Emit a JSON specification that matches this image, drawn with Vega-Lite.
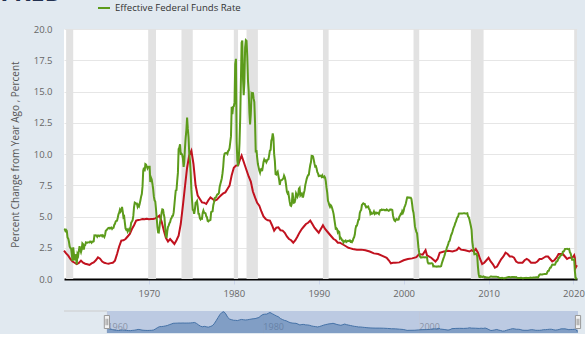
{
"$schema": "https://vega.github.io/schema/vega-lite/v6.json",
"background": "#e1e9f0",
"padding": {"left": 0, "top": -19, "right": 0, "bottom": 0},
"config": {"view": {"stroke": null}, "font": "Open Sans"},
"title": {"text": "FRED", "anchor": "start", "frame": "bounds", "dx": -10, "dy": 25, "offset": 0, "baseline": "alphabetic", "fontSize": 25, "fontWeight": "bold", "color": "#22304f"},
"spacing": 11,
"datasets": {
"rec": [{"s":"1960-04","e":"1961-02"},{"s":"1969-12","e":"1970-11"},{"s":"1973-11","e":"1975-03"},{"s":"1980-01","e":"1980-07"},{"s":"1981-07","e":"1982-11"},{"s":"1990-07","e":"1991-03"},{"s":"2001-03","e":"2001-11"},{"s":"2007-12","e":"2009-06"},{"s":"2020-02","e":"2020-06"}],
"sel": [{"s":"1960-01","e":"2020-06"}],
"outl": [{"s":"1954-07","e":"1960-01"}],
"handles": [{"d":"1960-01"},{"d":"2020-06"}],
"core": [
{"d":"1960-01","v":2.27},{"d":"1960-04","v":2.05},{"d":"1960-07","v":1.87},{"d":"1960-10","v":1.6},
{"d":"1961-01","v":1.4},{"d":"1961-04","v":1.3},{"d":"1961-07","v":1.2},{"d":"1961-10","v":1.28},
{"d":"1962-01","v":1.47},{"d":"1962-04","v":1.3},{"d":"1962-07","v":1.22},{"d":"1962-10","v":1.18},
{"d":"1963-01","v":1.12},{"d":"1963-04","v":1.25},{"d":"1963-07","v":1.33},{"d":"1963-10","v":1.5},
{"d":"1964-01","v":1.73},{"d":"1964-04","v":1.62},{"d":"1964-07","v":1.4},{"d":"1964-10","v":1.3},
{"d":"1965-01","v":1.25},{"d":"1965-04","v":1.22},{"d":"1965-07","v":1.27},{"d":"1965-10","v":1.3},
{"d":"1966-01","v":1.47},{"d":"1966-04","v":2.0},{"d":"1966-07","v":2.6},{"d":"1966-10","v":3.07},
{"d":"1967-01","v":3.1},{"d":"1967-04","v":3.2},{"d":"1967-07","v":3.4},{"d":"1967-10","v":3.6},
{"d":"1968-01","v":4.0},{"d":"1968-04","v":4.3},{"d":"1968-07","v":4.67},{"d":"1968-10","v":4.72},
{"d":"1969-01","v":4.75},{"d":"1969-04","v":4.8},{"d":"1969-07","v":4.78},{"d":"1969-10","v":4.82},
{"d":"1970-01","v":4.78},{"d":"1970-04","v":4.8},{"d":"1970-07","v":4.8},{"d":"1970-10","v":4.85},
{"d":"1971-01","v":4.95},{"d":"1971-04","v":5.07},{"d":"1971-07","v":4.6},{"d":"1971-10","v":3.9},
{"d":"1972-01","v":3.3},{"d":"1972-04","v":3.0},{"d":"1972-07","v":3.2},{"d":"1972-10","v":3.0},
{"d":"1973-01","v":2.8},{"d":"1973-04","v":3.1},{"d":"1973-07","v":3.47},{"d":"1973-10","v":4.4},
{"d":"1974-01","v":5.87},{"d":"1974-04","v":7.4},{"d":"1974-07","v":8.9},{"d":"1974-10","v":9.9},
{"d":"1975-01","v":10.27},{"d":"1975-04","v":9.2},{"d":"1975-07","v":7.5},{"d":"1975-10","v":6.67},
{"d":"1976-01","v":6.4},{"d":"1976-04","v":6.13},{"d":"1976-07","v":6.1},{"d":"1976-10","v":6.0},
{"d":"1977-01","v":6.3},{"d":"1977-04","v":6.53},{"d":"1977-07","v":6.4},{"d":"1977-10","v":6.27},
{"d":"1978-01","v":6.35},{"d":"1978-04","v":6.53},{"d":"1978-07","v":6.7},{"d":"1978-10","v":6.85},
{"d":"1979-01","v":6.93},{"d":"1979-04","v":7.2},{"d":"1979-07","v":7.47},{"d":"1979-10","v":8.3},
{"d":"1980-01","v":8.9},{"d":"1980-04","v":9.07},{"d":"1980-07","v":9.1},{"d":"1980-10","v":9.6},
{"d":"1980-12","v":9.87},{"d":"1981-04","v":9.2},{"d":"1981-07","v":8.7},{"d":"1981-10","v":8.2},
{"d":"1982-01","v":7.8},{"d":"1982-04","v":7.0},{"d":"1982-07","v":6.53},{"d":"1982-10","v":6.1},
{"d":"1983-01","v":5.87},{"d":"1983-04","v":5.4},{"d":"1983-07","v":5.0},{"d":"1983-10","v":4.8},
{"d":"1984-01","v":4.7},{"d":"1984-04","v":4.67},{"d":"1984-07","v":4.3},{"d":"1984-10","v":3.87},
{"d":"1985-01","v":4.1},{"d":"1985-04","v":4.13},{"d":"1985-07","v":3.9},{"d":"1985-10","v":3.87},
{"d":"1986-01","v":3.7},{"d":"1986-04","v":3.4},{"d":"1986-07","v":3.2},{"d":"1986-10","v":3.1},
{"d":"1987-01","v":2.9},{"d":"1987-04","v":3.1},{"d":"1987-07","v":3.4},{"d":"1987-10","v":3.73},
{"d":"1988-01","v":4.0},{"d":"1988-04","v":4.2},{"d":"1988-07","v":4.4},{"d":"1988-10","v":4.5},
{"d":"1989-01","v":4.67},{"d":"1989-04","v":4.4},{"d":"1989-07","v":4.1},{"d":"1989-10","v":3.9},
{"d":"1990-01","v":3.7},{"d":"1990-04","v":4.0},{"d":"1990-07","v":4.3},{"d":"1990-10","v":4.0},
{"d":"1991-01","v":3.8},{"d":"1991-04","v":3.6},{"d":"1991-07","v":3.4},{"d":"1991-10","v":3.2},
{"d":"1992-01","v":3.1},{"d":"1992-04","v":2.9},{"d":"1992-07","v":2.9},{"d":"1992-10","v":2.8},
{"d":"1993-01","v":2.7},{"d":"1993-04","v":2.6},{"d":"1993-07","v":2.5},{"d":"1993-10","v":2.45},
{"d":"1994-01","v":2.4},{"d":"1994-07","v":2.35},{"d":"1995-01","v":2.35},{"d":"1995-07","v":2.3},
{"d":"1996-01","v":2.2},{"d":"1996-07","v":2.05},{"d":"1997-01","v":2.0},{"d":"1997-07","v":1.85},
{"d":"1998-01","v":1.7},{"d":"1998-04","v":1.5},{"d":"1998-07","v":1.25},{"d":"1998-10","v":1.3},
{"d":"1999-01","v":1.3},{"d":"1999-07","v":1.33},{"d":"2000-01","v":1.5},{"d":"2000-07","v":1.6},
{"d":"2001-01","v":1.65},{"d":"2001-07","v":1.75},{"d":"2001-11","v":2.0},{"d":"2002-04","v":1.95},
{"d":"2002-08","v":2.3},{"d":"2002-10","v":1.9},{"d":"2003-04","v":1.7},{"d":"2003-10","v":1.4},
{"d":"2004-01","v":1.6},{"d":"2004-04","v":2.1},{"d":"2004-10","v":2.2},{"d":"2005-04","v":2.25},
{"d":"2005-10","v":2.2},{"d":"2006-04","v":2.3},{"d":"2006-07","v":2.5},{"d":"2006-10","v":2.35},
{"d":"2007-04","v":2.3},{"d":"2007-10","v":2.2},{"d":"2008-01","v":2.3},{"d":"2008-04","v":2.2},
{"d":"2008-07","v":2.4},{"d":"2008-10","v":2.1},{"d":"2009-01","v":1.6},{"d":"2009-04","v":1.2},
{"d":"2009-07","v":1.3},{"d":"2009-10","v":1.5},{"d":"2010-01","v":1.7},{"d":"2010-04","v":1.4},
{"d":"2010-07","v":1.2},{"d":"2010-10","v":0.9},{"d":"2011-01","v":1.0},{"d":"2011-04","v":1.3},
{"d":"2011-07","v":1.6},{"d":"2011-10","v":1.8},{"d":"2012-01","v":2.1},{"d":"2012-04","v":2.0},
{"d":"2012-07","v":1.8},{"d":"2012-10","v":1.8},{"d":"2013-01","v":1.7},{"d":"2013-04","v":1.4},
{"d":"2013-07","v":1.3},{"d":"2013-10","v":1.3},{"d":"2014-01","v":1.3},{"d":"2014-04","v":1.5},
{"d":"2014-07","v":1.6},{"d":"2014-10","v":1.5},{"d":"2015-01","v":1.3},{"d":"2015-04","v":1.3},
{"d":"2015-07","v":1.3},{"d":"2015-10","v":1.4},{"d":"2016-01","v":1.6},{"d":"2016-04","v":1.6},
{"d":"2016-07","v":1.7},{"d":"2016-10","v":1.8},{"d":"2017-01","v":1.8},{"d":"2017-04","v":1.6},
{"d":"2017-07","v":1.4},{"d":"2017-10","v":1.5},{"d":"2018-01","v":1.7},{"d":"2018-04","v":2.0},
{"d":"2018-07","v":2.0},{"d":"2018-10","v":2.0},{"d":"2019-01","v":1.8},{"d":"2019-04","v":1.6},
{"d":"2019-07","v":1.7},{"d":"2019-10","v":1.7},{"d":"2020-01","v":1.8},{"d":"2020-02","v":1.9},
{"d":"2020-03","v":1.7},{"d":"2020-04","v":0.9},{"d":"2020-05","v":1.0},{"d":"2020-06","v":1.1}
],
"ff": [
{"d":"1960-01","v":3.99},{"d":"1960-02","v":3.97},{"d":"1960-03","v":3.84},{"d":"1960-04","v":3.92},{"d":"1960-05","v":3.85},{"d":"1960-06","v":3.32},{"d":"1960-07","v":3.23},{"d":"1960-08","v":2.98},{"d":"1960-09","v":2.6},{"d":"1960-10","v":2.47},{"d":"1960-11","v":2.44},{"d":"1960-12","v":1.98},
{"d":"1961-01","v":1.45},{"d":"1961-02","v":2.54},{"d":"1961-03","v":2.02},{"d":"1961-04","v":1.49},{"d":"1961-05","v":1.98},{"d":"1961-06","v":1.73},{"d":"1961-07","v":1.17},{"d":"1961-08","v":2.0},{"d":"1961-09","v":1.88},{"d":"1961-10","v":2.26},{"d":"1961-11","v":2.62},{"d":"1961-12","v":2.33},
{"d":"1962-01","v":2.15},{"d":"1962-02","v":2.37},{"d":"1962-03","v":2.85},{"d":"1962-04","v":2.78},{"d":"1962-05","v":2.36},{"d":"1962-06","v":2.68},{"d":"1962-07","v":2.71},{"d":"1962-08","v":2.93},{"d":"1962-09","v":2.9},{"d":"1962-10","v":2.9},{"d":"1962-11","v":2.94},{"d":"1962-12","v":2.93},
{"d":"1963-01","v":2.92},{"d":"1963-02","v":3.0},{"d":"1963-03","v":2.98},{"d":"1963-04","v":2.9},{"d":"1963-05","v":3.0},{"d":"1963-06","v":2.99},{"d":"1963-07","v":3.02},{"d":"1963-08","v":3.49},{"d":"1963-09","v":3.48},{"d":"1963-10","v":3.5},{"d":"1963-11","v":3.48},{"d":"1963-12","v":3.38},
{"d":"1964-01","v":3.48},{"d":"1964-02","v":3.48},{"d":"1964-03","v":3.43},{"d":"1964-04","v":3.47},{"d":"1964-05","v":3.5},{"d":"1964-06","v":3.5},{"d":"1964-07","v":3.42},{"d":"1964-08","v":3.5},{"d":"1964-09","v":3.45},{"d":"1964-10","v":3.36},{"d":"1964-11","v":3.52},{"d":"1964-12","v":3.85},
{"d":"1965-01","v":3.9},{"d":"1965-02","v":3.98},{"d":"1965-03","v":4.04},{"d":"1965-04","v":4.09},{"d":"1965-05","v":4.1},{"d":"1965-06","v":4.04},{"d":"1965-07","v":4.09},{"d":"1965-08","v":4.12},{"d":"1965-09","v":4.01},{"d":"1965-10","v":4.08},{"d":"1965-11","v":4.1},{"d":"1965-12","v":4.32},
{"d":"1966-01","v":4.42},{"d":"1966-02","v":4.6},{"d":"1966-03","v":4.65},{"d":"1966-04","v":4.67},{"d":"1966-05","v":4.9},{"d":"1966-06","v":5.17},{"d":"1966-07","v":5.3},{"d":"1966-08","v":5.53},{"d":"1966-09","v":5.4},{"d":"1966-10","v":5.53},{"d":"1966-11","v":5.76},{"d":"1966-12","v":5.4},
{"d":"1967-01","v":4.94},{"d":"1967-02","v":5.0},{"d":"1967-03","v":4.53},{"d":"1967-04","v":4.05},{"d":"1967-05","v":3.94},{"d":"1967-06","v":3.98},{"d":"1967-07","v":3.79},{"d":"1967-08","v":3.9},{"d":"1967-09","v":3.99},{"d":"1967-10","v":3.88},{"d":"1967-11","v":4.13},{"d":"1967-12","v":4.51},
{"d":"1968-01","v":4.6},{"d":"1968-02","v":4.71},{"d":"1968-03","v":5.05},{"d":"1968-04","v":5.76},{"d":"1968-05","v":6.11},{"d":"1968-06","v":6.07},{"d":"1968-07","v":6.02},{"d":"1968-08","v":6.03},{"d":"1968-09","v":5.78},{"d":"1968-10","v":5.91},{"d":"1968-11","v":5.82},{"d":"1968-12","v":6.02},
{"d":"1969-01","v":6.3},{"d":"1969-02","v":6.61},{"d":"1969-03","v":6.79},{"d":"1969-04","v":7.41},{"d":"1969-05","v":8.67},{"d":"1969-06","v":8.9},{"d":"1969-07","v":8.61},{"d":"1969-08","v":9.19},{"d":"1969-09","v":9.15},{"d":"1969-10","v":9.0},{"d":"1969-11","v":8.85},{"d":"1969-12","v":8.97},
{"d":"1970-01","v":8.98},{"d":"1970-02","v":8.98},{"d":"1970-03","v":7.76},{"d":"1970-04","v":8.1},{"d":"1970-05","v":7.95},{"d":"1970-06","v":7.61},{"d":"1970-07","v":7.21},{"d":"1970-08","v":6.61},{"d":"1970-09","v":6.29},{"d":"1970-10","v":6.2},{"d":"1970-11","v":5.6},{"d":"1970-12","v":4.9},
{"d":"1971-01","v":4.14},{"d":"1971-02","v":3.72},{"d":"1971-03","v":3.71},{"d":"1971-04","v":4.16},{"d":"1971-05","v":4.63},{"d":"1971-06","v":4.91},{"d":"1971-07","v":5.31},{"d":"1971-08","v":5.57},{"d":"1971-09","v":5.55},{"d":"1971-10","v":5.2},{"d":"1971-11","v":4.91},{"d":"1971-12","v":4.14},
{"d":"1972-01","v":3.5},{"d":"1972-02","v":3.29},{"d":"1972-03","v":3.83},{"d":"1972-04","v":4.17},{"d":"1972-05","v":4.27},{"d":"1972-06","v":4.46},{"d":"1972-07","v":4.55},{"d":"1972-08","v":4.8},{"d":"1972-09","v":4.87},{"d":"1972-10","v":5.04},{"d":"1972-11","v":5.06},{"d":"1972-12","v":5.33},
{"d":"1973-01","v":5.94},{"d":"1973-02","v":6.58},{"d":"1973-03","v":7.09},{"d":"1973-04","v":7.12},{"d":"1973-05","v":7.84},{"d":"1973-06","v":8.49},{"d":"1973-07","v":10.4},{"d":"1973-08","v":10.5},{"d":"1973-09","v":10.78},{"d":"1973-10","v":10.01},{"d":"1973-11","v":10.03},{"d":"1973-12","v":9.95},
{"d":"1974-01","v":9.65},{"d":"1974-02","v":8.97},{"d":"1974-03","v":9.35},{"d":"1974-04","v":10.51},{"d":"1974-05","v":11.31},{"d":"1974-06","v":11.93},{"d":"1974-07","v":12.92},{"d":"1974-08","v":12.01},{"d":"1974-09","v":11.34},{"d":"1974-10","v":10.06},{"d":"1974-11","v":9.45},{"d":"1974-12","v":8.53},
{"d":"1975-01","v":7.13},{"d":"1975-02","v":6.24},{"d":"1975-03","v":5.54},{"d":"1975-04","v":5.49},{"d":"1975-05","v":5.22},{"d":"1975-06","v":5.55},{"d":"1975-07","v":6.1},{"d":"1975-08","v":6.14},{"d":"1975-09","v":6.24},{"d":"1975-10","v":5.82},{"d":"1975-11","v":5.22},{"d":"1975-12","v":5.2},
{"d":"1976-01","v":4.87},{"d":"1976-02","v":4.77},{"d":"1976-03","v":4.84},{"d":"1976-04","v":4.82},{"d":"1976-05","v":5.29},{"d":"1976-06","v":5.48},{"d":"1976-07","v":5.31},{"d":"1976-08","v":5.29},{"d":"1976-09","v":5.25},{"d":"1976-10","v":5.02},{"d":"1976-11","v":4.95},{"d":"1976-12","v":4.65},
{"d":"1977-01","v":4.61},{"d":"1977-02","v":4.68},{"d":"1977-03","v":4.69},{"d":"1977-04","v":4.73},{"d":"1977-05","v":5.35},{"d":"1977-06","v":5.39},{"d":"1977-07","v":5.42},{"d":"1977-08","v":5.9},{"d":"1977-09","v":6.14},{"d":"1977-10","v":6.47},{"d":"1977-11","v":6.51},{"d":"1977-12","v":6.56},
{"d":"1978-01","v":6.7},{"d":"1978-02","v":6.78},{"d":"1978-03","v":6.79},{"d":"1978-04","v":6.89},{"d":"1978-05","v":7.36},{"d":"1978-06","v":7.6},{"d":"1978-07","v":7.81},{"d":"1978-08","v":8.04},{"d":"1978-09","v":8.45},{"d":"1978-10","v":8.96},{"d":"1978-11","v":9.76},{"d":"1978-12","v":10.03},
{"d":"1979-01","v":10.07},{"d":"1979-02","v":10.06},{"d":"1979-03","v":10.09},{"d":"1979-04","v":10.01},{"d":"1979-05","v":10.24},{"d":"1979-06","v":10.29},{"d":"1979-07","v":10.47},{"d":"1979-08","v":10.94},{"d":"1979-09","v":11.43},{"d":"1979-10","v":13.77},{"d":"1979-11","v":13.18},{"d":"1979-12","v":13.78},
{"d":"1980-01","v":13.82},{"d":"1980-02","v":14.13},{"d":"1980-03","v":17.19},{"d":"1980-04","v":17.61},{"d":"1980-05","v":10.98},{"d":"1980-06","v":9.47},{"d":"1980-07","v":9.03},{"d":"1980-08","v":9.61},{"d":"1980-09","v":10.87},{"d":"1980-10","v":12.81},{"d":"1980-11","v":15.85},{"d":"1980-12","v":18.9},
{"d":"1981-01","v":19.08},{"d":"1981-02","v":15.93},{"d":"1981-03","v":14.7},{"d":"1981-04","v":15.72},{"d":"1981-05","v":18.52},{"d":"1981-06","v":19.1},{"d":"1981-07","v":19.04},{"d":"1981-08","v":17.82},{"d":"1981-09","v":15.87},{"d":"1981-10","v":15.08},{"d":"1981-11","v":13.31},{"d":"1981-12","v":12.37},
{"d":"1982-01","v":13.22},{"d":"1982-02","v":14.78},{"d":"1982-03","v":14.68},{"d":"1982-04","v":14.94},{"d":"1982-05","v":14.45},{"d":"1982-06","v":14.15},{"d":"1982-07","v":12.59},{"d":"1982-08","v":10.12},{"d":"1982-09","v":10.31},{"d":"1982-10","v":9.71},{"d":"1982-11","v":9.2},{"d":"1982-12","v":8.95},
{"d":"1983-01","v":8.68},{"d":"1983-02","v":8.51},{"d":"1983-03","v":8.77},{"d":"1983-04","v":8.8},{"d":"1983-05","v":8.63},{"d":"1983-06","v":8.98},{"d":"1983-07","v":9.37},{"d":"1983-08","v":9.56},{"d":"1983-09","v":9.45},{"d":"1983-10","v":9.48},{"d":"1983-11","v":9.34},{"d":"1983-12","v":9.47},
{"d":"1984-01","v":9.56},{"d":"1984-02","v":9.59},{"d":"1984-03","v":9.91},{"d":"1984-04","v":10.29},{"d":"1984-05","v":10.32},{"d":"1984-06","v":11.06},{"d":"1984-07","v":11.23},{"d":"1984-08","v":11.64},{"d":"1984-09","v":11.3},{"d":"1984-10","v":9.99},{"d":"1984-11","v":9.43},{"d":"1984-12","v":8.38},
{"d":"1985-01","v":8.35},{"d":"1985-02","v":8.5},{"d":"1985-03","v":8.58},{"d":"1985-04","v":8.27},{"d":"1985-05","v":7.97},{"d":"1985-06","v":7.53},{"d":"1985-07","v":7.88},{"d":"1985-08","v":7.9},{"d":"1985-09","v":7.92},{"d":"1985-10","v":7.99},{"d":"1985-11","v":8.05},{"d":"1985-12","v":8.27},
{"d":"1986-01","v":8.14},{"d":"1986-02","v":7.86},{"d":"1986-03","v":7.48},{"d":"1986-04","v":6.99},{"d":"1986-05","v":6.85},{"d":"1986-06","v":6.92},{"d":"1986-07","v":6.56},{"d":"1986-08","v":6.17},{"d":"1986-09","v":5.89},{"d":"1986-10","v":5.85},{"d":"1986-11","v":6.04},{"d":"1986-12","v":6.91},
{"d":"1987-01","v":6.43},{"d":"1987-02","v":6.1},{"d":"1987-03","v":6.13},{"d":"1987-04","v":6.37},{"d":"1987-05","v":6.85},{"d":"1987-06","v":6.73},{"d":"1987-07","v":6.58},{"d":"1987-08","v":6.73},{"d":"1987-09","v":7.22},{"d":"1987-10","v":7.29},{"d":"1987-11","v":6.69},{"d":"1987-12","v":6.77},
{"d":"1988-01","v":6.83},{"d":"1988-02","v":6.58},{"d":"1988-03","v":6.58},{"d":"1988-04","v":6.87},{"d":"1988-05","v":7.09},{"d":"1988-06","v":7.51},{"d":"1988-07","v":7.75},{"d":"1988-08","v":8.01},{"d":"1988-09","v":8.19},{"d":"1988-10","v":8.3},{"d":"1988-11","v":8.35},{"d":"1988-12","v":8.76},
{"d":"1989-01","v":9.12},{"d":"1989-02","v":9.36},{"d":"1989-03","v":9.85},{"d":"1989-04","v":9.84},{"d":"1989-05","v":9.81},{"d":"1989-06","v":9.53},{"d":"1989-07","v":9.24},{"d":"1989-08","v":8.99},{"d":"1989-09","v":9.02},{"d":"1989-10","v":8.84},{"d":"1989-11","v":8.55},{"d":"1989-12","v":8.45},
{"d":"1990-01","v":8.23},{"d":"1990-02","v":8.24},{"d":"1990-03","v":8.28},{"d":"1990-04","v":8.26},{"d":"1990-05","v":8.18},{"d":"1990-06","v":8.29},{"d":"1990-07","v":8.15},{"d":"1990-08","v":8.13},{"d":"1990-09","v":8.2},{"d":"1990-10","v":8.11},{"d":"1990-11","v":7.81},{"d":"1990-12","v":7.31},
{"d":"1991-01","v":6.91},{"d":"1991-02","v":6.25},{"d":"1991-03","v":6.12},{"d":"1991-04","v":5.91},{"d":"1991-05","v":5.78},{"d":"1991-06","v":5.9},{"d":"1991-07","v":5.82},{"d":"1991-08","v":5.66},{"d":"1991-09","v":5.45},{"d":"1991-10","v":5.21},{"d":"1991-11","v":4.81},{"d":"1991-12","v":4.43},
{"d":"1992-01","v":4.03},{"d":"1992-02","v":4.06},{"d":"1992-03","v":3.98},{"d":"1992-04","v":3.73},{"d":"1992-05","v":3.82},{"d":"1992-06","v":3.76},{"d":"1992-07","v":3.25},{"d":"1992-08","v":3.3},{"d":"1992-09","v":3.22},{"d":"1992-10","v":3.1},{"d":"1992-11","v":3.09},{"d":"1992-12","v":2.92},
{"d":"1993-01","v":3.02},{"d":"1993-02","v":3.03},{"d":"1993-03","v":3.07},{"d":"1993-04","v":2.96},{"d":"1993-05","v":3.0},{"d":"1993-06","v":3.04},{"d":"1993-07","v":3.06},{"d":"1993-08","v":3.03},{"d":"1993-09","v":3.09},{"d":"1993-10","v":2.99},{"d":"1993-11","v":3.02},{"d":"1993-12","v":2.96},
{"d":"1994-01","v":3.05},{"d":"1994-02","v":3.25},{"d":"1994-03","v":3.34},{"d":"1994-04","v":3.56},{"d":"1994-05","v":4.01},{"d":"1994-06","v":4.25},{"d":"1994-07","v":4.26},{"d":"1994-08","v":4.47},{"d":"1994-09","v":4.73},{"d":"1994-10","v":4.76},{"d":"1994-11","v":5.29},{"d":"1994-12","v":5.45},
{"d":"1995-01","v":5.53},{"d":"1995-02","v":5.92},{"d":"1995-03","v":5.98},{"d":"1995-04","v":6.05},{"d":"1995-05","v":6.01},{"d":"1995-06","v":6.0},{"d":"1995-07","v":5.85},{"d":"1995-08","v":5.74},{"d":"1995-09","v":5.8},{"d":"1995-10","v":5.76},{"d":"1995-11","v":5.8},{"d":"1995-12","v":5.6},
{"d":"1996-01","v":5.56},{"d":"1996-02","v":5.22},{"d":"1996-03","v":5.31},{"d":"1996-04","v":5.22},{"d":"1996-05","v":5.24},{"d":"1996-06","v":5.27},{"d":"1996-07","v":5.4},{"d":"1996-08","v":5.22},{"d":"1996-09","v":5.3},{"d":"1996-10","v":5.24},{"d":"1996-11","v":5.31},{"d":"1996-12","v":5.29},
{"d":"1997-01","v":5.25},{"d":"1997-02","v":5.19},{"d":"1997-03","v":5.39},{"d":"1997-04","v":5.51},{"d":"1997-05","v":5.5},{"d":"1997-06","v":5.56},{"d":"1997-07","v":5.52},{"d":"1997-08","v":5.54},{"d":"1997-09","v":5.54},{"d":"1997-10","v":5.5},{"d":"1997-11","v":5.52},{"d":"1997-12","v":5.5},
{"d":"1998-01","v":5.56},{"d":"1998-02","v":5.51},{"d":"1998-03","v":5.49},{"d":"1998-04","v":5.45},{"d":"1998-05","v":5.49},{"d":"1998-06","v":5.56},{"d":"1998-07","v":5.54},{"d":"1998-08","v":5.55},{"d":"1998-09","v":5.51},{"d":"1998-10","v":5.07},{"d":"1998-11","v":4.83},{"d":"1998-12","v":4.68},
{"d":"1999-01","v":4.63},{"d":"1999-02","v":4.76},{"d":"1999-03","v":4.81},{"d":"1999-04","v":4.74},{"d":"1999-05","v":4.74},{"d":"1999-06","v":4.76},{"d":"1999-07","v":4.99},{"d":"1999-08","v":5.07},{"d":"1999-09","v":5.22},{"d":"1999-10","v":5.2},{"d":"1999-11","v":5.42},{"d":"1999-12","v":5.3},
{"d":"2000-01","v":5.45},{"d":"2000-02","v":5.73},{"d":"2000-03","v":5.85},{"d":"2000-04","v":6.02},{"d":"2000-05","v":6.27},{"d":"2000-06","v":6.53},{"d":"2000-07","v":6.54},{"d":"2000-08","v":6.5},{"d":"2000-09","v":6.52},{"d":"2000-10","v":6.51},{"d":"2000-11","v":6.51},{"d":"2000-12","v":6.4},
{"d":"2001-01","v":5.98},{"d":"2001-02","v":5.49},{"d":"2001-03","v":5.31},{"d":"2001-04","v":4.8},{"d":"2001-05","v":4.21},{"d":"2001-06","v":3.97},{"d":"2001-07","v":3.77},{"d":"2001-08","v":3.65},{"d":"2001-09","v":3.07},{"d":"2001-10","v":2.49},{"d":"2001-11","v":2.09},{"d":"2001-12","v":1.82},
{"d":"2002-01","v":1.73},{"d":"2002-02","v":1.74},{"d":"2002-03","v":1.73},{"d":"2002-04","v":1.75},{"d":"2002-05","v":1.75},{"d":"2002-06","v":1.75},{"d":"2002-07","v":1.73},{"d":"2002-08","v":1.74},{"d":"2002-09","v":1.75},{"d":"2002-10","v":1.75},{"d":"2002-11","v":1.34},{"d":"2002-12","v":1.24},
{"d":"2003-01","v":1.24},{"d":"2003-02","v":1.26},{"d":"2003-03","v":1.25},{"d":"2003-04","v":1.26},{"d":"2003-05","v":1.26},{"d":"2003-06","v":1.22},{"d":"2003-07","v":1.01},{"d":"2003-08","v":1.03},{"d":"2003-09","v":1.01},{"d":"2003-10","v":1.01},{"d":"2003-11","v":1.0},{"d":"2003-12","v":0.98},
{"d":"2004-01","v":1.0},{"d":"2004-02","v":1.01},{"d":"2004-03","v":1.0},{"d":"2004-04","v":1.0},{"d":"2004-05","v":1.0},{"d":"2004-06","v":1.03},{"d":"2004-07","v":1.26},{"d":"2004-08","v":1.43},{"d":"2004-09","v":1.61},{"d":"2004-10","v":1.76},{"d":"2004-11","v":1.93},{"d":"2004-12","v":2.16},
{"d":"2005-01","v":2.28},{"d":"2005-02","v":2.5},{"d":"2005-03","v":2.63},{"d":"2005-04","v":2.79},{"d":"2005-05","v":3.0},{"d":"2005-06","v":3.04},{"d":"2005-07","v":3.26},{"d":"2005-08","v":3.5},{"d":"2005-09","v":3.62},{"d":"2005-10","v":3.78},{"d":"2005-11","v":4.0},{"d":"2005-12","v":4.16},
{"d":"2006-01","v":4.29},{"d":"2006-02","v":4.49},{"d":"2006-03","v":4.59},{"d":"2006-04","v":4.79},{"d":"2006-05","v":4.94},{"d":"2006-06","v":4.99},{"d":"2006-07","v":5.24},{"d":"2006-08","v":5.25},{"d":"2006-09","v":5.25},{"d":"2006-10","v":5.25},{"d":"2006-11","v":5.25},{"d":"2006-12","v":5.24},
{"d":"2007-01","v":5.25},{"d":"2007-02","v":5.26},{"d":"2007-03","v":5.26},{"d":"2007-04","v":5.25},{"d":"2007-05","v":5.25},{"d":"2007-06","v":5.25},{"d":"2007-07","v":5.26},{"d":"2007-08","v":5.02},{"d":"2007-09","v":4.94},{"d":"2007-10","v":4.76},{"d":"2007-11","v":4.49},{"d":"2007-12","v":4.24},
{"d":"2008-01","v":3.94},{"d":"2008-02","v":2.98},{"d":"2008-03","v":2.61},{"d":"2008-04","v":2.28},{"d":"2008-05","v":1.98},{"d":"2008-06","v":2.0},{"d":"2008-07","v":2.01},{"d":"2008-08","v":2.0},{"d":"2008-09","v":1.81},{"d":"2008-10","v":0.97},{"d":"2008-11","v":0.39},{"d":"2008-12","v":0.16},
{"d":"2009-01","v":0.15},{"d":"2009-02","v":0.22},{"d":"2009-03","v":0.18},{"d":"2009-04","v":0.15},{"d":"2009-05","v":0.18},{"d":"2009-06","v":0.21},{"d":"2009-07","v":0.16},{"d":"2009-08","v":0.16},{"d":"2009-09","v":0.15},{"d":"2009-10","v":0.12},{"d":"2009-11","v":0.12},{"d":"2009-12","v":0.12},
{"d":"2010-01","v":0.11},{"d":"2010-02","v":0.13},{"d":"2010-03","v":0.16},{"d":"2010-04","v":0.2},{"d":"2010-05","v":0.2},{"d":"2010-06","v":0.18},{"d":"2010-07","v":0.18},{"d":"2010-08","v":0.19},{"d":"2010-09","v":0.19},{"d":"2010-10","v":0.19},{"d":"2010-11","v":0.19},{"d":"2010-12","v":0.18},
{"d":"2011-01","v":0.17},{"d":"2011-02","v":0.16},{"d":"2011-03","v":0.14},{"d":"2011-04","v":0.1},{"d":"2011-05","v":0.09},{"d":"2011-06","v":0.09},{"d":"2011-07","v":0.07},{"d":"2011-08","v":0.1},{"d":"2011-09","v":0.08},{"d":"2011-10","v":0.07},{"d":"2011-11","v":0.08},{"d":"2011-12","v":0.07},
{"d":"2012-01","v":0.08},{"d":"2012-02","v":0.1},{"d":"2012-03","v":0.13},{"d":"2012-04","v":0.14},{"d":"2012-05","v":0.16},{"d":"2012-06","v":0.16},{"d":"2012-07","v":0.16},{"d":"2012-08","v":0.13},{"d":"2012-09","v":0.14},{"d":"2012-10","v":0.16},{"d":"2012-11","v":0.16},{"d":"2012-12","v":0.16},
{"d":"2013-01","v":0.14},{"d":"2013-02","v":0.15},{"d":"2013-03","v":0.14},{"d":"2013-04","v":0.15},{"d":"2013-05","v":0.11},{"d":"2013-06","v":0.09},{"d":"2013-07","v":0.09},{"d":"2013-08","v":0.08},{"d":"2013-09","v":0.08},{"d":"2013-10","v":0.09},{"d":"2013-11","v":0.08},{"d":"2013-12","v":0.09},
{"d":"2014-01","v":0.07},{"d":"2014-02","v":0.07},{"d":"2014-03","v":0.08},{"d":"2014-04","v":0.09},{"d":"2014-05","v":0.09},{"d":"2014-06","v":0.1},{"d":"2014-07","v":0.09},{"d":"2014-08","v":0.09},{"d":"2014-09","v":0.09},{"d":"2014-10","v":0.09},{"d":"2014-11","v":0.09},{"d":"2014-12","v":0.12},
{"d":"2015-01","v":0.11},{"d":"2015-02","v":0.11},{"d":"2015-03","v":0.11},{"d":"2015-04","v":0.12},{"d":"2015-05","v":0.12},{"d":"2015-06","v":0.13},{"d":"2015-07","v":0.13},{"d":"2015-08","v":0.14},{"d":"2015-09","v":0.14},{"d":"2015-10","v":0.12},{"d":"2015-11","v":0.12},{"d":"2015-12","v":0.24},
{"d":"2016-01","v":0.34},{"d":"2016-02","v":0.38},{"d":"2016-03","v":0.36},{"d":"2016-04","v":0.37},{"d":"2016-05","v":0.37},{"d":"2016-06","v":0.38},{"d":"2016-07","v":0.39},{"d":"2016-08","v":0.4},{"d":"2016-09","v":0.4},{"d":"2016-10","v":0.4},{"d":"2016-11","v":0.41},{"d":"2016-12","v":0.54},
{"d":"2017-01","v":0.65},{"d":"2017-02","v":0.66},{"d":"2017-03","v":0.79},{"d":"2017-04","v":0.9},{"d":"2017-05","v":0.91},{"d":"2017-06","v":1.04},{"d":"2017-07","v":1.15},{"d":"2017-08","v":1.16},{"d":"2017-09","v":1.15},{"d":"2017-10","v":1.15},{"d":"2017-11","v":1.16},{"d":"2017-12","v":1.3},
{"d":"2018-01","v":1.41},{"d":"2018-02","v":1.42},{"d":"2018-03","v":1.51},{"d":"2018-04","v":1.69},{"d":"2018-05","v":1.7},{"d":"2018-06","v":1.82},{"d":"2018-07","v":1.91},{"d":"2018-08","v":1.91},{"d":"2018-09","v":1.95},{"d":"2018-10","v":2.19},{"d":"2018-11","v":2.2},{"d":"2018-12","v":2.27},
{"d":"2019-01","v":2.4},{"d":"2019-02","v":2.4},{"d":"2019-03","v":2.41},{"d":"2019-04","v":2.42},{"d":"2019-05","v":2.39},{"d":"2019-06","v":2.38},{"d":"2019-07","v":2.4},{"d":"2019-08","v":2.13},{"d":"2019-09","v":2.04},{"d":"2019-10","v":1.83},{"d":"2019-11","v":1.55},{"d":"2019-12","v":1.55},
{"d":"2020-01","v":1.55},{"d":"2020-02","v":1.58},{"d":"2020-03","v":0.65},{"d":"2020-04","v":0.05},{"d":"2020-05","v":0.05},{"d":"2020-06","v":0.08}
]
},
"vconcat": [
{
"width": 513, "height": 250,
"view": {"fill": "#ffffff", "stroke": null},
"layer": [
{"data": {"name": "rec"}, "mark": {"type": "rect", "color": "#e2e2e2"},
 "encoding": {
  "x": {"field": "s", "type": "temporal", "title": null,
        "scale": {"type": "utc", "domain": [{"year": 1960, "month": 1, "date": 1, "utc": true}, {"year": 2020, "month": 6, "date": 1, "utc": true}], "nice": false},
        "axis": {"values": [{"year": 1970, "utc": true}, {"year": 1980, "utc": true}, {"year": 1990, "utc": true}, {"year": 2000, "utc": true}, {"year": 2010, "utc": true}, {"year": 2020, "utc": true}],
                 "tickCount": 20, "format": "%Y", "grid": false, "domainColor": "#000000", "domainWidth": 2, "tickColor": "#ccd6eb", "tickSize": 5, "labelPadding": 4, "labelFontSize": 9.5, "labelColor": "#666666", "labelFlush": false, "labelOverlap": false}},
  "x2": {"field": "e"}}},
{"data": {"name": "core"}, "mark": {"type": "line", "strokeWidth": 2},
 "encoding": {
  "x": {"field": "d", "type": "temporal", "title": null},
  "y": {"field": "v", "type": "quantitative", "title": "Percent Change from Year Ago , Percent",
        "scale": {"domain": [0, 20], "nice": false},
        "axis": {"values": [0, 2.5, 5, 7.5, 10, 12.5, 15, 17.5, 20], "tickCount": 20, "format": ".1f", "domain": false, "ticks": false, "tickSize": 0, "labelPadding": 12, "labelFontSize": 9.5, "labelColor": "#666666", "labelOverlap": false, "gridColor": "#e6e6e6", "titleFontSize": 10, "titleFontWeight": "normal", "titleColor": "#555555", "titlePadding": 13}},
  "color": {"datum": "Personal Consumption Expenditures Excluding Food and Energy (Chain-Type Price Index)", "type": "nominal",
        "scale": {"domain": ["Personal Consumption Expenditures Excluding Food and Energy (Chain-Type Price Index)", "Effective Federal Funds Rate"], "range": ["#c1121f", "#5c9b1b"]},
        "legend": {"values": ["Effective Federal Funds Rate"], "orient": "none", "legendX": 33, "legendY": -28, "title": null, "padding": 0, "symbolType": "stroke", "symbolSize": 144, "symbolStrokeWidth": 2, "labelFontSize": 9.6, "labelColor": "#333333", "labelOffset": 4, "labelLimit": 400}}}},
{"data": {"name": "ff"}, "mark": {"type": "line", "strokeWidth": 2},
 "encoding": {
  "x": {"field": "d", "type": "temporal", "title": null},
  "y": {"field": "v", "type": "quantitative", "title": "Percent Change from Year Ago , Percent"},
  "color": {"datum": "Effective Federal Funds Rate", "type": "nominal"}}}
]
},
{
"width": 514, "height": 22,
"layer": [
{"data": {"name": "sel"}, "mark": {"type": "rect", "color": "#6685c2", "opacity": 0.3},
 "encoding": {
  "x": {"field": "s", "type": "temporal", "title": null,
        "scale": {"type": "utc", "domain": [{"year": 1954, "month": 7, "date": 1, "utc": true}, {"year": 2020, "month": 6, "date": 1, "utc": true}], "nice": false},
        "axis": {"values": [{"year": 1960, "utc": true}, {"year": 1980, "utc": true}, {"year": 2000, "utc": true}], "tickCount": 20, "format": "%Y", "grid": true, "gridColor": "#e6e6e6", "ticks": false, "domain": false, "labelAlign": "left", "labelPadding": -11, "labelDx": 2, "labelFontSize": 9, "labelColor": "#999999", "labelFlush": false}},
  "x2": {"field": "e"}}},
{"data": {"name": "core"}, "mark": {"type": "area", "color": "#4572a7", "opacity": 0.5, "line": {"color": "#4572a7", "strokeWidth": 1, "opacity": 1}},
 "encoding": {
  "x": {"field": "d", "type": "temporal", "title": null},
  "y": {"field": "v", "type": "quantitative", "title": null, "scale": {"domain": [0, 10.6], "nice": false}, "axis": null}}},
{"data": {"name": "outl"}, "mark": {"type": "rule", "color": "#cccccc", "strokeWidth": 1},
 "encoding": {
  "x": {"field": "s", "type": "temporal", "title": null},
  "x2": {"field": "e"},
  "y": {"datum": 10.6, "type": "quantitative"}}},
{"data": {"name": "handles"}, "mark": {"type": "point", "shape": "M-0.4,-1H0.4V1H-0.4Z M-0.13,-0.5V0.5 M0.13,-0.5V0.5", "size": 169, "filled": false, "fill": "#f2f2f2", "fillOpacity": 1, "stroke": "#999999", "strokeWidth": 1, "opacity": 1},
 "encoding": {
  "x": {"field": "d", "type": "temporal", "title": null}}}
]
}
]
}
